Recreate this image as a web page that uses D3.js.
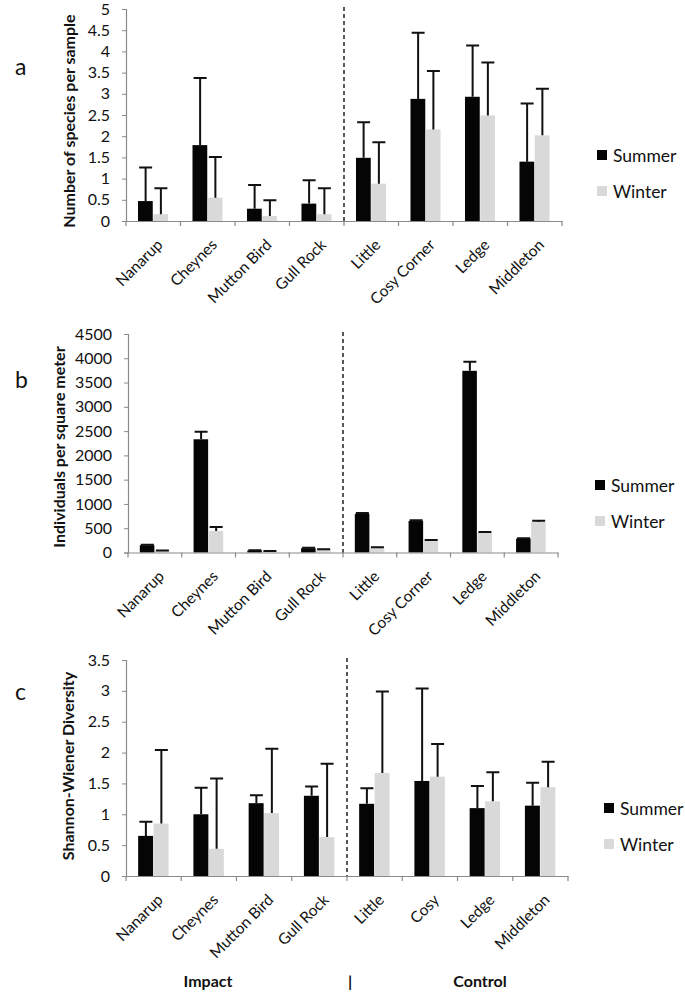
<!DOCTYPE html>
<html><head><meta charset="utf-8">
<script src="https://cdn.jsdelivr.net/npm/d3@7"></script>
<style>
html,body{margin:0;padding:0;background:#fff;}
svg{display:block;font-family:Lato,"Open Sans",sans-serif;}
</style></head>
<body>
<svg id="chart" width="685" height="992"></svg>
<script>
// ---------- data ----------
const sites = ["Nanarup","Cheynes","Mutton Bird","Gull Rock","Little","Cosy Corner","Ledge","Middleton"];
const sitesC = ["Nanarup","Cheynes","Mutton Bird","Gull Rock","Little","Cosy","Ledge","Middleton"];
const seriesNames = ["Summer","Winter"];

// (a) number of species per sample
const speciesSummer   = [0.47,1.79,0.29,0.41,1.49,2.88,2.93,1.40];
const speciesSummerSE = [0.79,1.58,0.56,0.55,0.84,1.56,1.21,1.37];
const speciesWinter   = [0.16,0.55,0.12,0.16,0.88,2.16,2.49,2.02];
const speciesWinterSE = [0.61,0.96,0.37,0.61,0.98,1.38,1.25,1.10];
const speciesTicks = [0,0.5,1,1.5,2,2.5,3,3.5,4,4.5,5];

// (b) individuals per square meter
const densSummer   = [150,2332,41,88,797,648,3742,286];
const densSummerSE = [10,156,5,8,15,15,184,10];
const densWinter   = [34,443,27,61,90,239,402,627];
const densWinterSE = [5,82,3,5,20,20,21,27];
const densTicks = [0,500,1000,1500,2000,2500,3000,3500,4000,4500];

// (c) Shannon-Wiener diversity
const divSummer   = [0.65,1.00,1.18,1.30,1.17,1.54,1.10,1.14];
const divSummerSE = [0.23,0.43,0.13,0.15,0.25,1.50,0.36,0.37];
const divWinter   = [0.85,0.44,1.02,0.63,1.67,1.61,1.21,1.44];
const divWinterSE = [1.19,1.14,1.04,1.19,1.32,0.53,0.47,0.41];
const divTicks = [0,0.5,1,1.5,2,2.5,3,3.5];

const groupLabels = ["Impact","|","Control"];

// ---------- drawing ----------
const svg = d3.select("#chart");
const colors = {Summer:"#050505", Winter:"#d9d9d9"};
const axisColor = "#8a8a8a";

function panel(o){
  const g = svg.append("g");
  const x0 = d3.scaleBand().domain(o.cats).range([o.x0, o.x1]).paddingInner(0).paddingOuter(0);
  const y = d3.scaleLinear().domain([0, o.max]).range([o.yb, o.yt]);
  const bw = x0.bandwidth()*0.56;
  const x1 = d3.scaleBand().domain(seriesNames).range([0,bw]);

  // bars
  const rows = o.cats.map((c,i)=>({c, vals:[
    {s:"Summer", v:o.summer[i], e:o.summerSE[i]},
    {s:"Winter", v:o.winter[i], e:o.winterSE[i]}]}));
  const grp = g.selectAll("g.cat").data(rows).join("g")
    .attr("transform", d=>`translate(${x0(d.c)+(x0.bandwidth()-bw)/2},0)`);
  grp.selectAll("rect").data(d=>d.vals).join("rect")
    .attr("x", d=>x1(d.s)).attr("width", x1.bandwidth()-0.5)
    .attr("y", d=>y(d.v)).attr("height", d=>y(0)-y(d.v))
    .attr("fill", d=>colors[d.s]);
  // error bars
  grp.selectAll("path.err").data(d=>d.vals).join("path").attr("class","err")
    .attr("d", d=>{
      const cx = x1(d.s)+x1.bandwidth()/2, t = y(d.v+d.e);
      return `M${cx},${y(d.v)}V${t}M${cx-6.5},${t}H${cx+6.5}`;
    })
    .attr("stroke","#111").attr("stroke-width",2).attr("fill","none");

  // axes
  const ya = d3.axisLeft(y).tickValues(o.ticks).tickSize(4).tickPadding(12).tickFormat(d=>String(d));
  const yg = g.append("g").attr("transform",`translate(${o.x0},0)`).call(ya);
  yg.select(".domain").attr("stroke",axisColor).attr("stroke-width",1.2);
  yg.selectAll(".tick line").attr("stroke",axisColor);
  yg.selectAll(".tick text").attr("font-size",16).attr("fill","#111").attr("font-family","Lato");

  const xa = d3.axisBottom(x0).tickSize(0).tickFormat("");
  const xg = g.append("g").attr("transform",`translate(0,${o.yb})`).call(xa);
  xg.select(".domain").attr("stroke",axisColor).attr("stroke-width",1.2);
  // boundary ticks
  const bounds = o.cats.map(c=>x0(c)).concat([o.x1]);
  g.append("g").selectAll("line").data(bounds).join("line")
    .attr("x1",d=>d).attr("x2",d=>d).attr("y1",o.yb).attr("y2",o.yb+5)
    .attr("stroke",axisColor).attr("stroke-width",1.2);

  // category labels
  g.append("g").selectAll("text").data(o.cats).join("text")
    .attr("transform", d=>`translate(${x0(d)+x0.bandwidth()/2+6.5},${o.yb+21}) rotate(-45)`)
    .attr("text-anchor","end").attr("dy","0.35em")
    .attr("font-size",15.5).attr("fill","#111").text(d=>d);

  // dashed divider
  const xd = x0(o.cats[4]);
  g.append("line").attr("x1",xd).attr("x2",xd).attr("y1",o.yt-2).attr("y2",o.yb)
    .attr("stroke","#222").attr("stroke-width",1.5).attr("stroke-dasharray","4,3");

  // y title
  g.append("text").attr("transform",`translate(${o.titleX},${o.titleY}) rotate(-90)`)
    .attr("text-anchor","middle").attr("font-weight","bold").attr("font-size",16)
    .attr("fill","#111").text(o.title);
  // panel letter
  g.append("text").attr("x",o.letterX).attr("y",o.letterY).attr("font-size",23)
    .attr("fill","#111").text(o.letter);

  // legend
  const lg = g.append("g").selectAll("g").data(seriesNames).join("g")
    .attr("transform",(d,i)=>`translate(${o.legX},${o.legY+i*o.legStep})`);
  lg.append("rect").attr("x",0).attr("y",-12).attr("width",10).attr("height",10).attr("fill",d=>colors[d]);
  lg.append("text").attr("x",16).attr("y",0).attr("font-size",17.5).attr("fill","#111").text(d=>d);
}

panel({cats:sites, summer:speciesSummer, summerSE:speciesSummerSE, winter:speciesWinter, winterSE:speciesWinterSE,
  max:5, ticks:speciesTicks, x0:126, x1:562, yb:221, yt:9,
  title:"Number of species per sample", titleX:75, titleY:121, letter:"a", letterX:15, letterY:75,
  legX:597, legY:162, legStep:36});
panel({cats:sites, summer:densSummer, summerSE:densSummerSE, winter:densWinter, winterSE:densWinterSE,
  max:4500, ticks:densTicks, x0:128, x1:558, yb:552.5, yt:334,
  title:"Individuals per square meter", titleX:65, titleY:447, letter:"b", letterX:15, letterY:388,
  legX:595, legY:492, legStep:36});
panel({cats:sitesC, summer:divSummer, summerSE:divSummerSE, winter:divWinter, winterSE:divWinterSE,
  max:3.5, ticks:divTicks, x0:126, x1:568, yb:876, yt:660,
  title:"Shannon-Wiener Diversity", titleX:74, titleY:766, letter:"c", letterX:15, letterY:700,
  legX:604, legY:815, legStep:36});

// group labels
const gx = [208, 350, 480];
svg.append("g").selectAll("text").data(groupLabels).join("text")
  .attr("x",(d,i)=>gx[i]).attr("y",987).attr("text-anchor","middle")
  .attr("font-weight","bold").attr("font-size",16).attr("fill","#111").text(d=>d);
</script>
</body></html>
